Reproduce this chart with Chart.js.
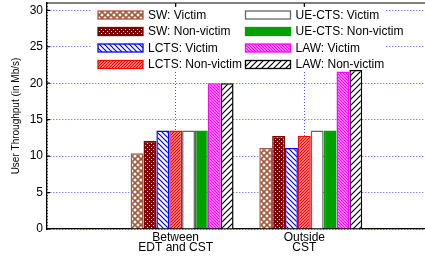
<!DOCTYPE html>
<html>
<head>
<meta charset="utf-8">
<script src="https://cdn.jsdelivr.net/npm/chart.js@4.4.0/dist/chart.umd.min.js"></script>
<style>
  html, body { margin: 0; padding: 0; overflow: hidden; background: #fff; }
  canvas { display: block; }
</style>
</head>
<body>
<canvas id="chart" width="433" height="259"></canvas>
<script>
// Data
const categories = [['Between', 'EDT and CST'], ['Outside', 'CST']]
const seriesNames = ['SW: Victim', 'SW: Non-victim', 'LCTS: Victim', 'LCTS: Non-victim',
                     'UE-CTS: Victim', 'UE-CTS: Non-victim', 'LAW: Victim', 'LAW: Non-victim']
const swVictim = [10.4, 11.1]
const swNonVictim = [12.1, 12.75]
const lctsVictim = [13.5, 11.1]
const lctsNonVictim = [13.5, 12.8]
const uectsVictim = [13.5, 13.5]
const uectsNonVictim = [13.5, 13.5]
const lawVictim = [20.0, 21.6]
const lawNonVictim = [20.0, 21.8]
const yTicks = [0, 5, 10, 15, 20, 25, 30]

const FONT = "'Liberation Sans', Arial, Helvetica, sans-serif"
const GRID = 'rgba(30, 30, 255, 0.8)'
const canvas = document.getElementById('chart')
const ctx = canvas.getContext('2d')

// small tiled fills, like the gnuplot patterns
function makePattern(size, bg, fg, width, draw) {
    const c = document.createElement('canvas')
    c.width = size
    c.height = size
    const g = c.getContext('2d')
    g.fillStyle = bg
    g.fillRect(0, 0, size, size)
    g.strokeStyle = fg
    g.fillStyle = fg
    g.lineWidth = width
    draw(g, size)
    return ctx.createPattern(c, 'repeat')
}

function slash(g, s) {
    g.beginPath()
    g.moveTo(0, s); g.lineTo(s, 0)
    g.moveTo(-1, 1); g.lineTo(1, -1)
    g.moveTo(s - 1, s + 1); g.lineTo(s + 1, s - 1)
    g.stroke()
}

function backslash(g, s) {
    g.beginPath()
    g.moveTo(0, 0); g.lineTo(s, s)
    g.moveTo(-1, s - 1); g.lineTo(1, s + 1)
    g.moveTo(s - 1, -1); g.lineTo(s + 1, 1)
    g.stroke()
}

const patterns = {
    swVictim: makePattern(6, '#fff', '#a5583a', 1.6, (g, s) => { slash(g, s); backslash(g, s) }),
    swNonVictim: makePattern(4, '#800000', '#fff', 1, (g) => {
        g.fillRect(1, 1, 1, 1)
        g.fillRect(3, 3, 1, 1)
    }),
    lctsVictim: makePattern(5, '#fff', '#0000ff', 1.2, backslash),
    lctsNonVictim: makePattern(3, '#fff', '#ff0000', 1.5, slash),
    lawVictim: makePattern(3, '#fff', '#ff00ff', 1.5, backslash),
    lawNonVictim: makePattern(6, '#fff', '#000', 1.2, slash)
}

const seriesValues = [swVictim, swNonVictim, lctsVictim, lctsNonVictim,
                      uectsVictim, uectsNonVictim, lawVictim, lawNonVictim]
const fills = [patterns.swVictim, patterns.swNonVictim, patterns.lctsVictim, patterns.lctsNonVictim,
               '#ffffff', '#00a000', patterns.lawVictim, patterns.lawNonVictim]
const borders = ['#a5583a', '#800000', '#0000ff', '#ff0000', '#666666', '#00a000', '#ff00ff', '#000000']

// empty slots on both ends of the x range, like the gnuplot xrange
const labels = [''].concat(categories, [''])
const pad = (arr) => [null].concat(arr, [null])

// first an empty series so the bar groups sit a little right of the labels
const datasets = [{
    label: '',
    data: pad([null, null]),
    backgroundColor: 'transparent',
    borderWidth: 0
}]
seriesNames.forEach((name, i) => {
    datasets.push({
        label: name,
        data: pad(seriesValues[i]),
        backgroundColor: fills[i],
        borderColor: borders[i],
        borderWidth: 1.5
    })
})

const legendInPlot = {
    id: 'legendInPlot',
    beforeDatasetsDraw(chart) {
        const c = chart.ctx
        const area = chart.chartArea
        c.save()
        // white legend box hides the grid
        c.fillStyle = '#fff'
        c.fillRect(92, area.top, 294, 68)
        const items = chart.data.datasets.filter(d => d.label)
        c.font = '12px ' + FONT
        c.textBaseline = 'middle'
        c.textAlign = 'left'
        items.forEach((d, i) => {
            const col = Math.floor(i / 4)
            const row = i % 4
            const x = col === 0 ? 98 : 245.5
            const y = 15 + row * 16.5
            c.fillStyle = d.backgroundColor
            c.fillRect(x, y - 4, 45, 8)
            c.strokeStyle = d.borderColor
            c.lineWidth = 1.3
            c.strokeRect(x, y - 4, 45, 8)
            c.fillStyle = '#000'
            c.fillText(d.label, x + 50, y + 0.5)
        })
        // top frame line and inward ticks
        c.strokeStyle = '#000'
        c.lineWidth = 1.2
        c.beginPath()
        c.moveTo(area.left, area.top)
        c.lineTo(area.right, area.top)
        const ys = chart.scales.y
        yTicks.forEach(v => {
            const py = ys.getPixelForValue(v)
            c.moveTo(area.left, py)
            c.lineTo(area.left + 3, py)
        })
        const xs = chart.scales.x
        categories.forEach((cat, i) => {
            const px = xs.getPixelForValue(i + 1)
            c.moveTo(px, area.top)
            c.lineTo(px, area.top + 4)
            c.moveTo(px, area.bottom)
            c.lineTo(px, area.bottom - 4)
        })
        c.stroke()
        c.restore()
    }
}

new Chart(canvas, {
    type: 'bar',
    data: { labels: labels, datasets: datasets },
    plugins: [legendInPlot],
    options: {
        responsive: false,
        animation: false,
        devicePixelRatio: 1,
        layout: { padding: { left: 6, top: 3, right: 0, bottom: 0 } },
        datasets: {
            bar: { categoryPercentage: 0.9, barPercentage: 1.0 }
        },
        plugins: {
            legend: { display: false },
            tooltip: { enabled: false }
        },
        scales: {
            x: {
                type: 'category',
                offset: false,
                grid: {
                    color: GRID,
                    lineWidth: 1,
                    drawTicks: false,
                    offset: false
                },
                // in v4 the dash here is used by the grid lines
                border: { display: true, color: '#000', width: 1.3, dash: [1, 2] },
                ticks: {
                    autoSkip: false,
                    maxRotation: 0,
                    padding: 4,
                    color: '#000',
                    font: { family: FONT, size: 12, lineHeight: 0.8 }
                },
                afterFit(scale) {
                    scale.height = 30
                    scale.paddingLeft = 0
                    scale.paddingRight = 0
                }
            },
            y: {
                min: 0,
                max: 31,
                grid: {
                    color: GRID,
                    lineWidth: 1,
                    drawTicks: false
                },
                border: { display: true, color: '#000', width: 1.3, dash: [1, 2] },
                afterBuildTicks(scale) {
                    scale.ticks = yTicks.map(v => ({ value: v }))
                },
                ticks: {
                    padding: 4,
                    color: '#000',
                    font: { family: FONT, size: 12 }
                },
                title: {
                    display: true,
                    text: 'User Throughput (in Mb/s)',
                    color: '#000',
                    padding: { top: 4, bottom: 0 },
                    font: { family: FONT, size: 10 }
                },
                afterFit(scale) {
                    scale.width = 41
                    scale.paddingTop = 0
                    scale.paddingBottom = 0
                }
            }
        }
    }
})
</script>
</body>
</html>
